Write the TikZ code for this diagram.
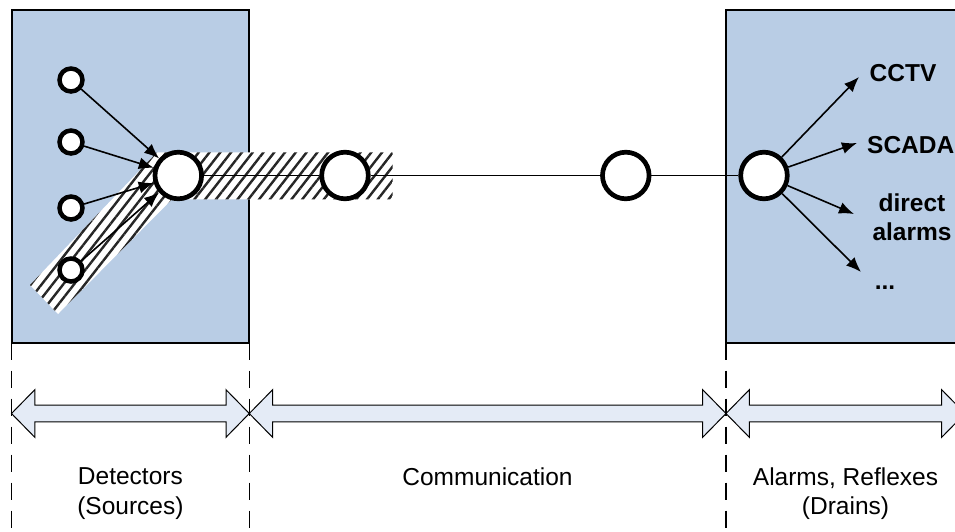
\documentclass[tikz,border=0pt]{standalone}
\usepackage{fontspec}
\setmainfont{Liberation Sans}
\usetikzlibrary{arrows.meta,patterns.meta}
\definecolor{boxblue}{HTML}{B9CDE5}
\definecolor{arrowblue}{HTML}{E4EBF6}
\begin{document}
\begin{tikzpicture}[x=1pt,y=-1pt,
  panel/.style={draw=black,line width=2pt,fill=boxblue},
  hatchband/.style={preaction={fill=white},pattern={Lines[angle=52,distance=8.5pt,line width=2.4pt]},pattern color=black!85},
  bignode/.style={circle,draw=black,line width=4.7pt,fill=white,minimum size=46.6pt,inner sep=0pt},
  smallnode/.style={circle,draw=black,line width=4.5pt,fill=white,minimum size=23pt,inner sep=0pt},
  conn/.style={line width=1.7pt},
  feed/.style={line width=1.6pt,-{Latex[length=15pt,width=12pt]}},
  outlabel/.style={font=\fontsize{24.5}{29.5}\selectfont\bfseries,inner sep=0pt},
  zonetext/.style={font=\fontsize{24.5}{29.5}\selectfont,align=center,inner sep=0pt},
  divider/.style={line width=1.2pt,dash pattern=on 17pt off 11pt},
  spanarrow/.style={draw=black,line width=1pt,fill=arrowblue}
]
\useasboundingbox (0,0) rectangle (955,531);
\clip (0,0) rectangle (955,531);
% panels
\draw[panel] (11.5,9.5) rectangle (249.3,342.5);
\draw[panel] (726,9.5) rectangle (966,342.5);
% hatched band
\path[hatchband] (30,285) -- (157,152.3) -- (392.7,152.3) -- (392.7,199.3) -- (172,199.3) -- (58,314) -- cycle;
% nodes
\node[bignode] (d) at (178.3,175.5) {};
\node[bignode] (m1) at (345,175.5) {};
\node[bignode] (m2) at (625.8,175.5) {};
\node[bignode] (a) at (764,175.5) {};
\node[smallnode] (s1) at (71,80) {};
\node[smallnode] (s2) at (71,142) {};
\node[smallnode] (s3) at (71,208) {};
\node[smallnode] (s4) at (71,270) {};
% connections
\draw[conn] (d) -- (m1) -- (m2) -- (a);
\foreach \s in {s1,s2,s3,s4} \draw[feed] (\s) -- (d);
\coordinate (t1) at (859,77);
\coordinate (t2) at (857,143);
\coordinate (t3) at (854,214);
\coordinate (t4) at (861,272);
\foreach \t in {t1,t2,t3,t4} \draw[feed] (a) -- (\t);
% output labels
\node[outlabel,anchor=base] (cctv) at (903,81.7) {CCTV};
\node[outlabel,anchor=base west] (scada) at (867,153.3) {SCADA};
\node[outlabel,align=center] (direct) at (912,217) {direct\\alarms};
\node[outlabel,anchor=base] (more) at (885,289) {...};
% span arrows
\foreach \xa/\xb in {11.5/249.3, 249.3/726, 726/965}
  \draw[spanarrow] (\xa,413.5) -- ++(23.3,-23.8) -- ++(0,15.4) -- (\xb-23.3,405.1)
    -- ++(0,-15.4) -- (\xb,413.5) -- ++(-23.3,23.8) -- ++(0,-15.4)
    -- (\xa+23.3,421.9) -- ++(0,15.4) -- cycle;
% dividers
\foreach \x in {11.5,249.3,726,965} \draw[divider] (\x,342.5) -- (\x,531);
% zone texts
\node[zonetext] (det) at (130.4,493.6) {Detectors\\(Sources)};
\node[zonetext,anchor=base] (com) at (487.5,485) {Communication};
\node[zonetext] (alm) at (845.5,493.6) {Alarms, Reflexes\\(Drains)};
\end{tikzpicture}
\end{document}
